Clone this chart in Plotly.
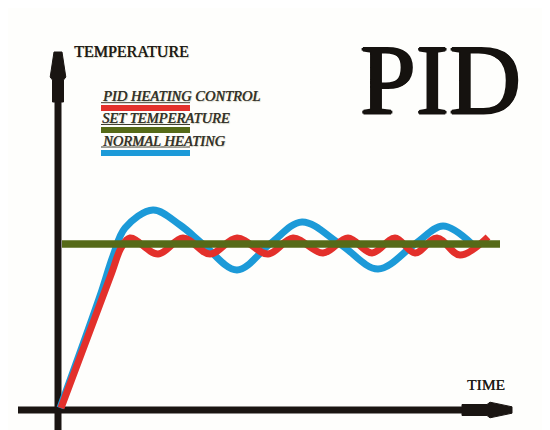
import plotly.graph_objects as go

# ---- data (time / temperature units, origin at axis crossing) ----
set_temperature = 166
set_time = [4, 442]

normal_time = [2, 42, 55, 67, 95, 122, 145, 179, 212, 244, 282, 320, 357, 385, 414]
normal_temp = [2, 114, 154, 182, 200, 185, 166, 140, 166, 188, 166, 141, 166, 184, 166]

pid_time = [3, 54, 63, 72, 100, 125, 152, 179, 210, 235, 265, 290, 314, 337, 357, 379, 402, 430]
pid_temp = [2, 138, 162, 172, 156, 172, 156, 172, 156, 172, 157, 172, 157, 172, 157, 172, 155, 173]

legend_labels = ["PID HEATING CONTROL", "SET TEMPERATURE", "NORMAL HEATING"]
legend_colors = ["#e3302b", "#566a18", "#1c9ad8"]

RED, GREEN, BLUE = legend_colors
AXIS = "#1a1512"
OX, OY = 58, 410  # pixel position of the origin
PAGE = 8          # default page margin of the browser


def X(px):
    return px - OX


def Y(py):
    return OY - py


def thick(color, d=1):
    return ", ".join(f"{a}px {b}px 0px {color}" for a, b in [(d, 0), (-d, 0), (0, d), (0, -d)])


fig = go.Figure()
fig.add_trace(go.Scatter(x=normal_time, y=normal_temp, mode="lines",
                         line=dict(color=BLUE, width=7, shape="spline", smoothing=1.0),
                         hoverinfo="skip"))
fig.add_trace(go.Scatter(x=pid_time, y=pid_temp, mode="lines",
                         line=dict(color=RED, width=7, shape="spline", smoothing=1.0),
                         hoverinfo="skip"))
fig.add_trace(go.Scatter(x=set_time, y=[set_temperature] * len(set_time), mode="lines",
                         line=dict(color=GREEN, width=7.5), hoverinfo="skip"))

shapes = []
# axis shafts
shapes.append(dict(type="line", xref="x", yref="y", x0=X(18), x1=X(466), y0=Y(410), y1=Y(410),
                   line=dict(color=AXIS, width=7), layer="below"))
shapes.append(dict(type="line", xref="x", yref="y", x0=X(58), x1=X(58), y0=Y(432), y1=Y(80),
                   line=dict(color=AXIS, width=7), layer="below"))
# x arrow head
xa = [(462, -5.5), (487, -5.5), (490, -7.8), (512, -3.2), (512, 3.2), (490, 7.8), (487, 5.5), (462, 5.5)]
path = "M " + " L ".join(f"{X(px)},{Y(410 + dy)}" for px, dy in xa) + " Z"
shapes.append(dict(type="path", xref="x", yref="y", path=path, fillcolor=AXIS,
                   line=dict(color=AXIS, width=1), layer="below"))
# y arrow head
ya = [(-5.5, 102), (-5.5, 80), (-7.8, 77), (-4, 52), (4, 52), (7.8, 77), (5.5, 80), (5.5, 102)]
path = "M " + " L ".join(f"{X(58 + dx)},{Y(py)}" for dx, py in ya) + " Z"
shapes.append(dict(type="path", xref="x", yref="y", path=path, fillcolor=AXIS,
                   line=dict(color=AXIS, width=1), layer="below"))

# legend bars with a thin rule above each
bar_y = [108, 130, 153]
rule_y = [102.7, 124.5, 147]
for c, yb, yr in zip(legend_colors, bar_y, rule_y):
    shapes.append(dict(type="rect", xref="x", yref="y", x0=X(101), x1=X(190),
                       y0=Y(yb - 3), y1=Y(yb + 3), fillcolor=c, line=dict(width=0)))
    shapes.append(dict(type="line", xref="x", yref="y", x0=X(101), x1=X(190),
                       y0=Y(yr), y1=Y(yr), line=dict(color="#3a392b", width=1)))

annotations = []
text_y = [95.5, 117.5, 140.5]
for lab, ty in zip(legend_labels, text_y):
    annotations.append(dict(x=X(100), y=Y(ty), xref="x", yref="y", xanchor="left", yanchor="middle",
                            text=f"<i>{lab}</i>", showarrow=False,
                            font=dict(family="Liberation Serif", size=14.5, color="#34332a",
                                      shadow="0.4px 0px 0px #34332a, 1px 1px 1px #c8c8b8")))
annotations.append(dict(x=X(72), y=Y(51), xref="x", yref="y", xanchor="left", yanchor="middle",
                        text="TEMPERATURE", showarrow=False,
                        font=dict(family="Liberation Serif", size=16, color="#1e1c16",
                                  shadow="0.4px 0px 0px #1e1c16, 1px 1px 1px #c8c8b8")))
annotations.append(dict(x=X(486), y=Y(384), xref="x", yref="y", xanchor="center", yanchor="middle",
                        text="TIME", showarrow=False,
                        font=dict(family="Liberation Serif", size=15.5, color="#1e1c16",
                                  shadow="0.3px 0px 0px #1e1c16")))
annotations.append(dict(x=X(440), y=Y(79), xref="x", yref="y", xanchor="center", yanchor="middle",
                        text="PID", showarrow=False,
                        font=dict(family="Liberation Serif", size=100, color="#15120f",
                                  shadow=thick("#15120f", 1.2))))

fig.update_layout(
    width=550 - PAGE, height=430 - PAGE, autosize=False,
    margin=dict(l=0, r=0, t=0, b=0, pad=0),
    paper_bgcolor="#fefefc", plot_bgcolor="#fefefc",
    showlegend=False,
    xaxis=dict(range=[X(PAGE), X(550)], visible=False, fixedrange=True),
    yaxis=dict(range=[Y(430), Y(PAGE)], visible=False, fixedrange=True),
    shapes=shapes, annotations=annotations,
)
fig.write_html("out.html")
